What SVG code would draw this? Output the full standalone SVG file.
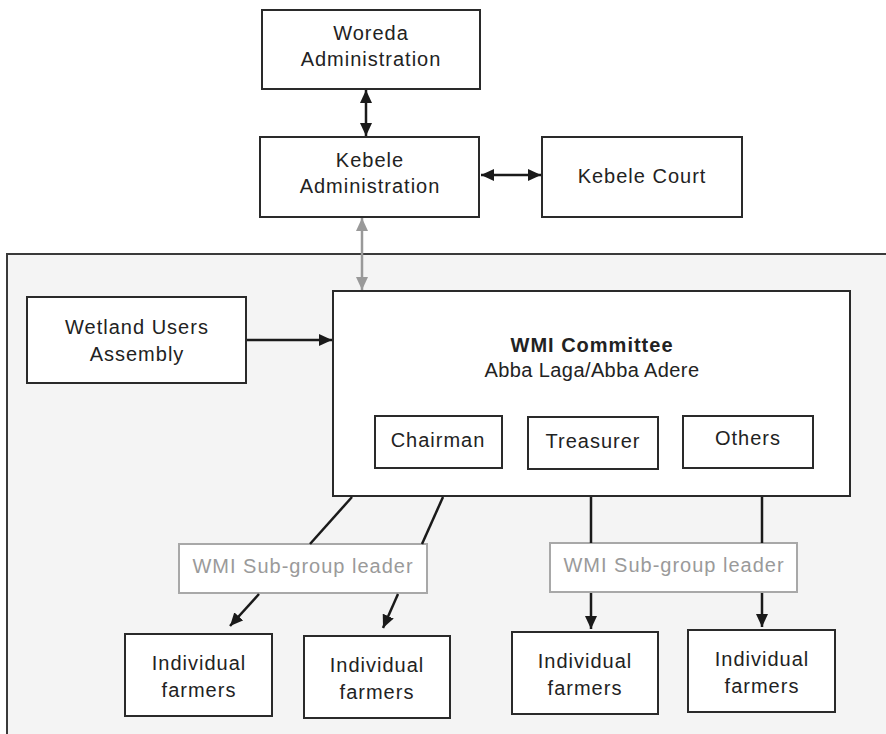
<svg xmlns="http://www.w3.org/2000/svg" width="886" height="734" viewBox="0 0 886 734">
<style>
.box{fill:#fff;stroke:#2a2a2a;stroke-width:2}
.sub{fill:#fff;stroke:#a8a8a8;stroke-width:2}
.t{font-family:"Liberation Sans",Arial,sans-serif;font-size:20px;fill:#222;text-anchor:middle;letter-spacing:1px}
.g{fill:#9a9a9a}
.b{font-weight:bold}
.c{stroke:#1a1a1a;stroke-width:2.5;fill:none}
.cg{stroke:#999;stroke-width:2.5;fill:none}
</style>
<defs>
<marker id="ah" viewBox="0 0 13 12" refX="13" refY="6" markerWidth="13" markerHeight="12" markerUnits="userSpaceOnUse" orient="auto-start-reverse"><path d="M0,0L13,6L0,12z" fill="#1a1a1a"/></marker>
<marker id="ahg" viewBox="0 0 13 12" refX="13" refY="6" markerWidth="13" markerHeight="12" markerUnits="userSpaceOnUse" orient="auto-start-reverse"><path d="M0,0L13,6L0,12z" fill="#999"/></marker>
</defs>
<rect width="886" height="734" fill="#fff"/>
<rect id="panel" x="7" y="254" width="890" height="490" fill="#f4f4f4" stroke="#3a3a3a" stroke-width="2"/>
<g id="woreda"><rect class="box" x="262" y="10" width="218" height="79"/><text class="t" x="371" y="40">Woreda</text><text class="t" x="371" y="66">Administration</text></g>
<g id="kebele"><rect class="box" x="260" y="137" width="219" height="80"/><text class="t" x="370" y="167">Kebele</text><text class="t" x="370" y="193">Administration</text></g>
<g id="court"><rect class="box" x="542" y="137" width="200" height="80"/><text class="t" x="642" y="183">Kebele Court</text></g>
<g id="assembly"><rect class="box" x="27" y="297" width="219" height="86"/><text class="t" x="137" y="334">Wetland Users</text><text class="t" x="137" y="361">Assembly</text></g>
<g id="committee"><rect class="box" x="333" y="291" width="517" height="205"/><text class="t b" x="592" y="352">WMI Committee</text><text class="t" x="592" y="377" style="letter-spacing:0.4px">Abba Laga/Abba Adere</text></g>
<g id="chairman"><rect class="box" x="375" y="416" width="127" height="52"/><text class="t" x="438" y="447">Chairman</text></g>
<g id="treasurer"><rect class="box" x="528" y="417" width="130" height="52"/><text class="t" x="593" y="448">Treasurer</text></g>
<g id="others"><rect class="box" x="683" y="416" width="130" height="52"/><text class="t" x="748" y="445">Others</text></g>
<g id="sub1"><rect class="sub" x="179" y="544" width="248" height="49"/><text class="t g" x="303" y="573">WMI Sub-group leader</text></g>
<g id="sub2"><rect class="sub" x="550" y="543" width="247" height="49"/><text class="t g" x="674" y="572">WMI Sub-group leader</text></g>
<g id="f1"><rect class="box" x="125" y="634" width="147" height="82"/><text class="t" x="199" y="670">Individual</text><text class="t" x="199" y="697">farmers</text></g>
<g id="f2"><rect class="box" x="304" y="636" width="146" height="82"/><text class="t" x="377" y="672">Individual</text><text class="t" x="377" y="699">farmers</text></g>
<g id="f3"><rect class="box" x="512" y="632" width="146" height="82"/><text class="t" x="585" y="668">Individual</text><text class="t" x="585" y="695">farmers</text></g>
<g id="f4"><rect class="box" x="688" y="630" width="147" height="82"/><text class="t" x="762" y="666">Individual</text><text class="t" x="762" y="693">farmers</text></g>
<g id="connectors">
<line class="c" x1="366" y1="90" x2="366" y2="136" marker-start="url(#ah)" marker-end="url(#ah)"/>
<line class="c" x1="481" y1="175" x2="541" y2="175" marker-start="url(#ah)" marker-end="url(#ah)"/>
<line class="cg" x1="362" y1="218" x2="362" y2="290" marker-start="url(#ahg)" marker-end="url(#ahg)"/>
<line class="c" x1="247" y1="340" x2="332" y2="340" marker-end="url(#ah)"/>
<line class="c" x1="352" y1="497" x2="310" y2="544"/>
<line class="c" x1="443" y1="497" x2="422" y2="544"/>
<line class="c" x1="591" y1="497" x2="591" y2="543"/>
<line class="c" x1="762" y1="497" x2="762" y2="543"/>
<line class="c" x1="259" y1="594" x2="230" y2="626" marker-end="url(#ah)"/>
<line class="c" x1="398" y1="594" x2="383" y2="628" marker-end="url(#ah)"/>
<line class="c" x1="591" y1="593" x2="591" y2="629" marker-end="url(#ah)"/>
<line class="c" x1="762" y1="593" x2="762" y2="627" marker-end="url(#ah)"/>
</g>
</svg>
